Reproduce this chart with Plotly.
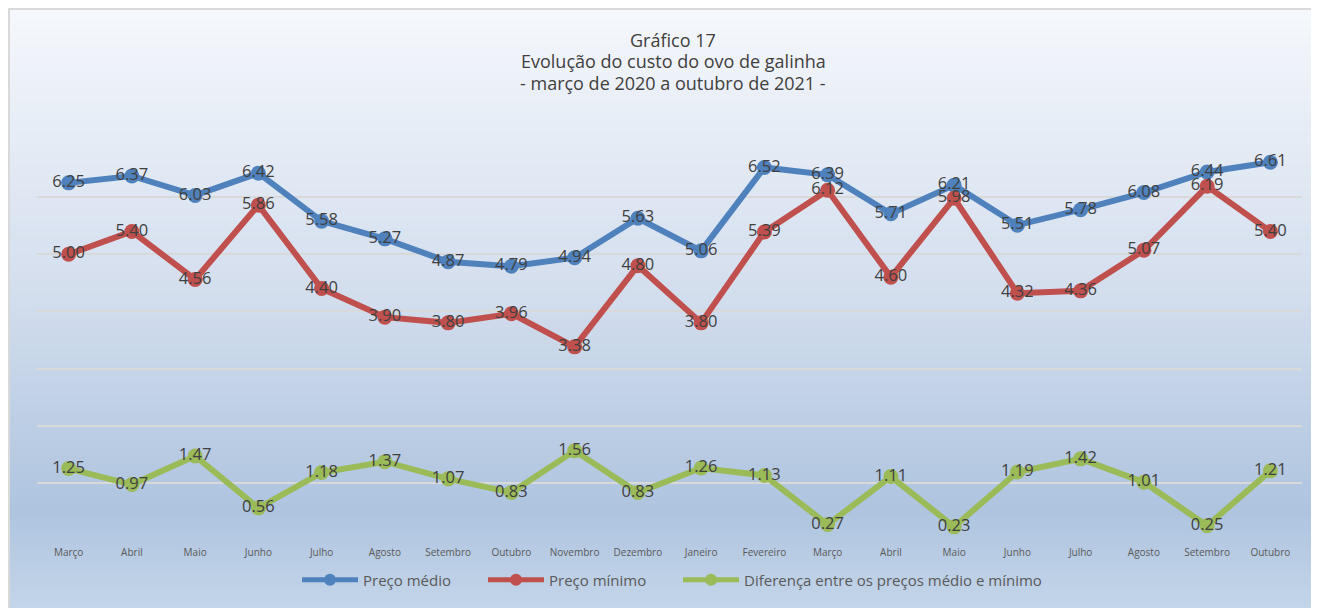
import plotly.graph_objects as go

meses = ["Março", "Abril", "Maio", "Junho", "Julho", "Agosto", "Setembro", "Outubro",
         "Novembro", "Dezembro", "Janeiro", "Fevereiro", "Março", "Abril", "Maio",
         "Junho", "Julho", "Agosto", "Setembro", "Outubro"]
preco_medio = [6.25, 6.37, 6.03, 6.42, 5.58, 5.27, 4.87, 4.79, 4.94, 5.63,
               5.06, 6.52, 6.39, 5.71, 6.21, 5.51, 5.78, 6.08, 6.44, 6.61]
preco_minimo = [5.00, 5.40, 4.56, 5.86, 4.40, 3.90, 3.80, 3.96, 3.38, 4.80,
                3.80, 5.39, 6.12, 4.60, 5.98, 4.32, 4.36, 5.07, 6.19, 5.40]
diferenca = [1.25, 0.97, 1.47, 0.56, 1.18, 1.37, 1.07, 0.83, 1.56, 0.83,
             1.26, 1.13, 0.27, 1.11, 0.23, 1.19, 1.42, 1.01, 0.25, 1.21]
nomes = ["Preço médio", "Preço mínimo", "Diferença entre os preços médio e mínimo"]
cores = ["#4f81bd", "#c0504d", "#9bbb59"]
titulo = ["Gráfico 17", "Evolução do custo do ovo de galinha", "- março de 2020 a outubro de 2021 -"]

OFF = 8  # page body margin
W, H = 1319 - OFF, 608 - OFF
L, R, T, B = 29, 17, 132, 68
PW, PH = W - L - R, H - T - B

def px2x(px):  # page pixel -> paper x
    return (px - OFF - L) / PW

def py2y(py):  # page pixel -> paper y
    return (H - B - (py - OFF)) / PH

legend_ids = ["legend", "legend2", "legend3"]
legend_x = [297, 483, 678]

x = list(range(len(meses)))
fig = go.Figure()
for vals, nome, cor, lid in zip([preco_medio, preco_minimo, diferenca], nomes, cores, legend_ids):
    fig.add_trace(go.Scatter(
        x=x, y=vals, name=nome, mode="lines+markers+text",
        line=dict(color=cor, width=6),
        marker=dict(color=cor, size=15),
        text=[f"{v:.2f}" for v in vals], textposition="middle center",
        textfont=dict(family="Open Sans", size=16.5, color="#404040"),
        cliponaxis=False, legend=lid,
    ))

# gradient background via bands (page pixel coords)
stops = [(8, (245, 248, 252)), (300, (210, 221, 237)), (510, (174, 196, 223)), (620, (198, 215, 234))]
def col_at(py):
    for (p0, c0), (p1, c1) in zip(stops[:-1], stops[1:]):
        if p0 <= py <= p1:
            t = (py - p0) / (p1 - p0)
            return "rgb(%d,%d,%d)" % tuple(round(a + (b - a) * t) for a, b in zip(c0, c1))
    return "rgb(%d,%d,%d)" % stops[-1][1]

shapes = []
step = 4
py = 8
while py < 620:
    shapes.append(dict(type="rect", xref="paper", yref="paper", layer="below",
                       x0=px2x(8), x1=px2x(1330), y0=py2y(py), y1=py2y(py + step + 0.5),
                       fillcolor=col_at(py + step / 2), line=dict(width=0)))
    py += step
shapes.append(dict(type="path", xref="paper", yref="paper", layer="below",
                   path="M %f,%f L %f,%f L %f,%f" % (px2x(9), py2y(640), px2x(9), py2y(9), px2x(1340), py2y(9)),
                   line=dict(color="#d9d9d9", width=2)))

annotations = []
for i, t in enumerate(titulo):
    annotations.append(dict(text=t, xref="paper", yref="paper", x=px2x(673), y=py2y(40 + i * 21.5),
                            xanchor="center", yanchor="middle", showarrow=False,
                            font=dict(family="Open Sans", size=18, color="#404040")))

legend_style = dict(orientation="h", xanchor="left", y=py2y(580), yanchor="middle",
                    font=dict(family="Open Sans", size=15, color="#595959"),
                    bgcolor="rgba(0,0,0,0)", itemwidth=56, itemsizing="constant")

fig.update_layout(
    width=W, height=H,
    margin=dict(l=L, r=R, t=T, b=B),
    paper_bgcolor="rgb(200,214,232)", plot_bgcolor="rgba(0,0,0,0)",
    shapes=shapes, annotations=annotations,
    showlegend=True,
    legend=dict(x=px2x(legend_x[0]), **legend_style),
    legend2=dict(x=px2x(legend_x[1]), **legend_style),
    legend3=dict(x=px2x(legend_x[2]), **legend_style),
    xaxis=dict(range=[-0.5, len(meses) - 0.5], tickvals=x, ticktext=meses,
               showgrid=False, zeroline=False, showline=False, ticks="",
               ticklabelstandoff=5,
               tickfont=dict(family="Open Sans", size=10, color="#595959")),
    yaxis=dict(range=[0, 7], dtick=1, showticklabels=False, zeroline=False,
               showgrid=True, gridcolor="#d9d9d9", gridwidth=2, showline=False),
)
fig.write_html("out.html",
               post_script="document.documentElement.style.overflow='hidden';document.body.style.overflow='hidden';")
